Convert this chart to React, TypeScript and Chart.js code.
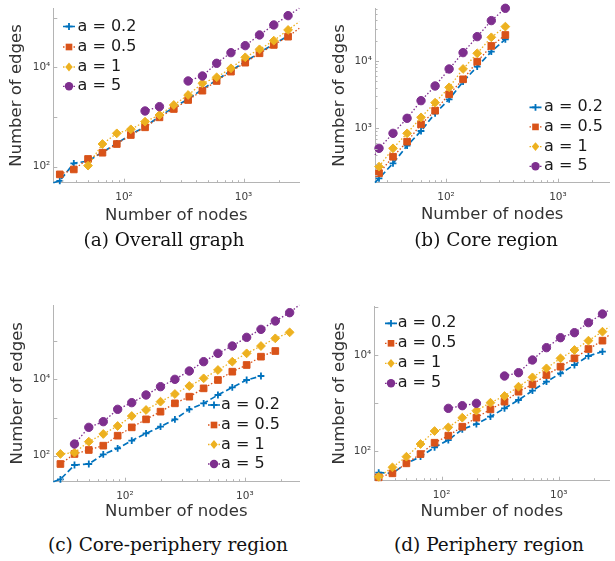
import React, { useEffect, useRef } from 'react';
import { Chart, registerables } from 'chart.js';
Chart.register(...registerables);

// ---------- data ----------
const seriesLabels = ['a = 0.2', 'a = 0.5', 'a = 1', 'a = 5'];
const seriesColors = ['#0072BD', '#D95319', '#EDB120', '#7E2F8E'];
const seriesStyles = ['cross', 'rect', 'rectRot', 'circle'];

const nodes = [29, 38, 50, 66, 87, 114, 150, 198, 261, 344, 453, 596, 785, 1034, 1361, 1792, 2360];
const coreNodes = [25.2, 33.6, 44.9, 59.8, 79.9, 106.6, 142, 190, 254, 339];

// (a) overall graph
const overallA02 = [52, 117, 130, 195, 295, 445, 640, 1018, 1568, 2300, 3600, 5560, 8560, 13000, 19700, 29500, 42800];
const overallA05 = [70, 88, 143, 191, 286, 434, 620, 984, 1449, 2198, 3388, 5309, 8180, 12400, 19150, 28200, 41400];
const overallA1 = [null, null, 105, 286, 469, 565, 805, 1096, 1744, 2773, 4760, 6290, 9550, 15900, 23000, 34400, 56500];
const overallA5 = [null, null, null, null, null, null, 1321, 1614, null, 5309, 6690, 12040, 19700, 27300, 44800, 71100, 109600];
const overallHead = [47.6, null, null, null];
const overallTail = [null, 61000, 83000, 154000];

// (b) core region
const coreA02 = [181, 302, 553, 913, 1671, 2698, 4932, 8240, 13780, 20990];
const coreA05 = [215, 379, 634, 1146, 1829, 3199, 5343, 9780, 16700, 24300];
const coreA1 = [270, 505, 843, 1456, 2404, 4064, 7606, 13000, 22440, 32360];
const coreA5 = [505, 843, 1409, 2575, 4253, 7606, 13300, 22970, 39740, 60500];
const coreHead = [156, null, null, 402];
const coreTail = [null, null, null, null];

// (c) core-periphery region
const cpA02 = [24.0, 56.9, 60.5, 108, 156, 247, 385, 575, 895, 1637, 2350, 3890, 6170, 9610, 12220, null, null];
const cpA05 = [60.5, 111, 141, 183, 334, 552, 895, 1422, 2350, 3516, 5808, 9610, 15880, 23770, 39260, 55250, null];
const cpA1 = [111, 120, 233, 370, 599, 1094, 1574, 2600, 4130, 6690, 10620, 17570, 29040, 47980, 74650, 118600, 170300];
const cpA5 = [null, 202, 552, 778, 1637, 2448, 3890, 6430, 10000, 16520, 29040, 47980, 74650, 126000, 204000, 337500, 558000];
const cpHead = [20.8, null, null, null];
const cpTail = [null, null, null, 887000];

// (d) periphery region
const perA02 = [35.4, 34.3, 55.4, 76.2, 119, 169, 283, 365, 519, 774, 1155, 1806, 2782, 4150, 6190, 9530, 11730];
const perA05 = [28.3, 34.3, 55.4, 86.5, 149, 209, 321, 495, 738, 1066, 1722, 2448, 3831, 5715, 8530, 13340, 19900];
const perA1 = [29, 45.7, 76.2, 140, 261, 311, 495, 692, 1016, 1400, 2190, 3425, 5275, 8530, 12710, 19900, 30620];
const perA5 = [null, null, null, null, null, 774, 880, 984, null, 3652, 4285, 7870, 14220, 22960, 29170, 47170, 71450];
const perHead = [null, null, null, null];
const perTail = [null, 26100, 38900, 86600];

const xTitle = 'Number of nodes';
const yTitle = 'Number of edges';
const captions = ['(a) Overall graph', '(b) Core region', '(c) Core-periphery region', '(d) Periphery region'];

// ---------- styling ----------
const AXIS = '#b4b4b4';
const TEXT = '#333333';
const SANS = 'DejaVu Sans';
const DASH = [6, 3];
const DOT = [1.5, 2];
const RADII = [3.4, 4.7, 4.4, 4.2];
const LINEW = [1.7, 1.3, 1.3, 1.3];

type Panel = {
  left: number; top: number; w: number; h: number;
  area: { l: number; r: number; t: number; b: number };
  xPb: number; yPt: number;
  xRange: [number, number]; yRange: [number, number];
  yTicks: number[]; yMinorFull: boolean;
  xs: number[]; values: (number | null)[][]; heads: (number | null)[]; tails: (number | null)[];
  legend: { mx: number; tx: number; ys: number[] };
};

const panels: Panel[] = [
  {
    left: 0, top: 0, w: 307, h: 235,
    area: { l: 53.3, r: 299.3, t: 8.3, b: 182.7 }, xPb: 9.2, yPt: 7.1,
    xRange: [25.6, 2930], yRange: [47.6, 154000], yTicks: [100, 10000], yMinorFull: false,
    xs: nodes, values: [overallA02, overallA05, overallA1, overallA5], heads: overallHead, tails: overallTail,
    legend: { mx: 69, tx: 77.5, ys: [26.5, 47, 67, 86.3] },
  },
  {
    left: 307, top: 0, w: 308, h: 235,
    area: { l: 68, r: 308, t: 8.3, b: 182.7 }, xPb: 9.9, yPt: 22.4,
    xRange: [23.2, 2877], yRange: [156, 60500], yTicks: [1000, 10000], yMinorFull: true,
    xs: coreNodes, values: [coreA02, coreA05, coreA1, coreA5], heads: coreHead, tails: coreTail,
    legend: { mx: 228.5, tx: 237, ys: [107.3, 126.9, 146.6, 166.3] },
  },
  {
    left: 0, top: 290, w: 307, h: 235,
    area: { l: 53.3, r: 299.3, t: 15, b: 191.7 }, xPb: 3.3, yPt: 7.8,
    xRange: [25.3, 2840], yRange: [20.8, 887000], yTicks: [100, 10000], yMinorFull: false,
    xs: nodes, values: [cpA02, cpA05, cpA1, cpA5], heads: cpHead, tails: cpTail,
    legend: { mx: 214, tx: 221, ys: [115, 135, 154.5, 174] },
  },
  {
    left: 307, top: 290, w: 308, h: 235,
    area: { l: 67.3, r: 308, t: 16, b: 190.7 }, xPb: 3.2, yPt: 23.1,
    xRange: [26.6, 2700], yRange: [24.1, 104900], yTicks: [100, 10000], yMinorFull: false,
    xs: nodes, values: [perA02, perA05, perA1, perA5], heads: perHead, tails: perTail,
    legend: { mx: 84, tx: 90.7, ys: [33.3, 53.3, 73.3, 93.3] },
  },
];

const captionPos = [
  { cx: 164, cy: 240 },
  { cx: 486, cy: 240 },
  { cx: 168, cy: 545 },
  { cx: 489, cy: 545 },
];

const SUP: Record<string, string> = { '0': '⁰', '1': '¹', '2': '²', '3': '³', '4': '⁴', '5': '⁵', '6': '⁶' };
const fmt = (v: number) => '10' + SUP[String(Math.round(Math.log10(v)))];

function drawMarker(ctx: CanvasRenderingContext2D, style: string, x: number, y: number, r: number, color: string) {
  ctx.save();
  ctx.setLineDash([]);
  ctx.fillStyle = color;
  ctx.strokeStyle = color;
  ctx.lineWidth = 1.8;
  ctx.beginPath();
  if (style === 'cross') {
    ctx.moveTo(x - r, y); ctx.lineTo(x + r, y);
    ctx.moveTo(x, y - r); ctx.lineTo(x, y + r);
    ctx.stroke();
  } else if (style === 'rect') {
    const s = r * Math.SQRT1_2;
    ctx.rect(x - s, y - s, 2 * s, 2 * s);
    ctx.fill();
  } else if (style === 'rectRot') {
    ctx.moveTo(x, y - r); ctx.lineTo(x + r * 0.85, y); ctx.lineTo(x, y + r); ctx.lineTo(x - r * 0.85, y);
    ctx.closePath();
    ctx.fill();
  } else {
    ctx.arc(x, y, r, 0, Math.PI * 2);
    ctx.fill();
  }
  ctx.restore();
}

function PanelChart({ cfg }: { cfg: Panel }) {
  const ref = useRef<HTMLCanvasElement>(null);
  useEffect(() => {
    const canvas = ref.current!;
    const datasets = cfg.values.map((vals, i) => {
      const pts: any[] = [];
      if (cfg.heads[i] != null) pts.push({ x: cfg.xRange[0], y: cfg.heads[i], ext: true });
      vals.forEach((v, k) => pts.push({ x: cfg.xs[k], y: v }));
      if (cfg.tails[i] != null) pts.push({ x: cfg.xRange[1], y: cfg.tails[i], ext: true });
      const c = seriesColors[i];
      return {
        label: seriesLabels[i],
        data: pts,
        borderColor: c,
        backgroundColor: c,
        borderWidth: LINEW[i],
        borderDash: i === 0 ? DASH : DOT,
        pointStyle: seriesStyles[i],
        pointRadius: (ctx: any) => (ctx.raw && ctx.raw.ext ? 0 : RADII[i]),
        pointHoverRadius: 0,
        pointBorderWidth: i === 0 ? 1.8 : 1,
        pointBorderColor: c,
        pointBackgroundColor: c,
        spanGaps: false,
        tension: 0,
        clip: false as any,
        order: 3 - i,
      };
    });

    const decor = {
      id: 'decor',
      afterDatasetsDraw(chart: any) {
        const ctx: CanvasRenderingContext2D = chart.ctx;
        const { left, bottom } = chart.chartArea;
        const xs = chart.scales.x;
        const ys = chart.scales.y;
        ctx.save();
        ctx.strokeStyle = AXIS;
        ctx.lineWidth = 1;
        ctx.setLineDash([]);
        for (let e = 0; e <= 6; e++) {
          for (let m = 1; m <= 9; m++) {
            const v = m * Math.pow(10, e);
            if (v > xs.min && v < xs.max) {
              const px = Math.round(xs.getPixelForValue(v)) + 0.5;
              const len = m === 1 ? 4 : 2.5;
              ctx.beginPath(); ctx.moveTo(px, bottom); ctx.lineTo(px, bottom - len); ctx.stroke();
            }
            if (v > ys.min && v < ys.max && (m === 1 || cfg.yMinorFull)) {
              const py = Math.round(ys.getPixelForValue(v)) + 0.5;
              const len = m === 1 ? 4 : 2.5;
              ctx.beginPath(); ctx.moveTo(left, py); ctx.lineTo(left + len, py); ctx.stroke();
            }
          }
        }
        // legend
        const L = cfg.legend;
        for (let i = 0; i < 4; i++) {
          const y = L.ys[i];
          ctx.save();
          ctx.strokeStyle = seriesColors[i];
          ctx.lineWidth = LINEW[i];
          ctx.setLineDash(i === 0 ? DASH : DOT);
          ctx.beginPath(); ctx.moveTo(L.mx - 6, y); ctx.lineTo(L.mx + 6, y); ctx.stroke();
          ctx.restore();
          drawMarker(ctx, seriesStyles[i], L.mx, y, RADII[i], seriesColors[i]);
          ctx.fillStyle = '#1a1a1a';
          ctx.font = `16px "${SANS}"`;
          ctx.textAlign = 'left';
          ctx.textBaseline = 'middle';
          ctx.fillText(seriesLabels[i], L.tx, y);
        }
        ctx.restore();
      },
    };

    const zeroPad = (s: any) => { s.paddingLeft = 0; s.paddingRight = 0; s.paddingTop = 0; s.paddingBottom = 0; };

    const chart = new Chart(canvas, {
      type: 'line',
      data: { datasets: datasets as any },
      options: {
        animation: false,
        responsive: false,
        devicePixelRatio: 1,
        events: [],
        layout: { padding: { left: 0, top: cfg.area.t, right: cfg.w - cfg.area.r, bottom: 0 } },
        plugins: { legend: { display: false }, tooltip: { enabled: false } },
        scales: {
          x: {
            type: 'logarithmic',
            min: cfg.xRange[0],
            max: cfg.xRange[1],
            grid: { display: false, drawTicks: false, tickLength: 0 },
            border: { display: true, color: AXIS, width: 1 },
            afterBuildTicks: (s: any) => { s.ticks = [{ value: 100 }, { value: 1000 }]; },
            ticks: {
              callback: (v: any) => fmt(Number(v)),
              font: { family: SANS, size: 10.5 },
              color: '#404040',
              padding: 8,
              maxRotation: 0,
              autoSkip: false,
            },
            title: {
              display: true, text: xTitle, color: TEXT,
              font: { family: SANS, size: 16.5 },
              padding: { top: 0, bottom: cfg.xPb },
            },
            afterFit: (s: any) => { s.height = cfg.h - cfg.area.b; zeroPad(s); },
          } as any,
          y: {
            type: 'logarithmic',
            min: cfg.yRange[0],
            max: cfg.yRange[1],
            grid: { display: false, drawTicks: false, tickLength: 0 },
            border: { display: true, color: AXIS, width: 1 },
            afterBuildTicks: (s: any) => { s.ticks = cfg.yTicks.map((v) => ({ value: v })); },
            ticks: {
              callback: (v: any) => fmt(Number(v)),
              font: { family: SANS, size: 10.5 },
              color: '#404040',
              padding: 3,
              autoSkip: false,
            },
            title: {
              display: true, text: yTitle, color: TEXT,
              font: { family: SANS, size: 16.5 },
              padding: { top: cfg.yPt, bottom: 0 },
            },
            afterFit: (s: any) => { s.width = cfg.area.l; zeroPad(s); },
          } as any,
        },
      },
      plugins: [decor],
    });
    return () => chart.destroy();
  }, [cfg]);
  return (
    <canvas
      ref={ref}
      width={cfg.w}
      height={cfg.h}
      style={{ position: 'absolute', left: cfg.left, top: cfg.top, width: cfg.w, height: cfg.h }}
    />
  );
}

export default function App() {
  return (
    <div style={{ position: 'absolute', left: 0, top: 0, width: 615, height: 561, background: '#fff', overflow: 'hidden' }}>
      {panels.map((p, i) => <PanelChart key={i} cfg={p} />)}
      {captions.map((t, i) => (
        <div
          key={'c' + i}
          style={{
            position: 'absolute',
            left: captionPos[i].cx - 160,
            top: captionPos[i].cy - 12,
            width: 320,
            height: 24,
            lineHeight: '24px',
            textAlign: 'center',
            fontFamily: '"DejaVu Serif", serif',
            fontSize: 18.5,
            color: '#111',
            whiteSpace: 'nowrap',
          }}
        >
          {t}
        </div>
      ))}
    </div>
  );
}
